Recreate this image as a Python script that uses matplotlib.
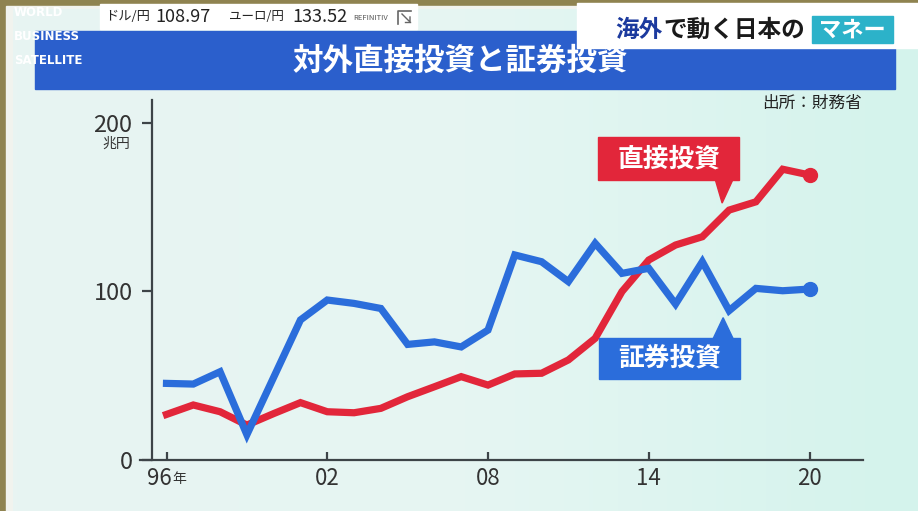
import numpy as np
import matplotlib.pyplot as plt
from matplotlib.patches import Rectangle, Polygon
from matplotlib.colors import LinearSegmentedColormap

plt.rcParams['font.family'] = ['Noto Sans CJK JP', 'DejaVu Sans']

# 対外直接投資・証券投資 (兆円), 1996-2020
years = np.arange(1996, 2021)
direct = [27, 32.6, 28.6, 20.7, 27.5, 34, 28.6, 28, 30.6, 37.5, 43.4, 49.4, 44.4,
          51, 51.4, 59.3, 72.1, 99.8, 118.5, 127.4, 132.3, 148.1, 153, 172.3, 168.9]
portfolio = [45.4, 45, 52.3, 15, 49, 83, 94.8, 92.8, 89.8, 68.5, 70, 67, 77,
             121.5, 117.5, 105.7, 128.4, 110.6, 113.6, 92.4, 117.5, 88.5, 101.7, 100.3, 101.3]
yticks = [0, 100, 200]
xticks = [1996, 2002, 2008, 2014, 2020]
xticklabels = ['96', '02', '08', '14', '20']

W, H = 918, 511
RED = '#e2263a'
BLUE = '#2b6ddb'
NAVY_BAR = '#2b5fcc'

fig = plt.figure(figsize=(W / 100, H / 100), dpi=100)
fig.patch.set_facecolor('#8f8350')

# background / decorations in pixel coords
bg = fig.add_axes([0, 0, 1, 1], zorder=-10)
bg.axis('off')
bg.add_patch(Rectangle((6, 6), W, H, color='#f1f3ee'))
cmap = LinearSegmentedColormap.from_list('panel', ['#e8f4f2', '#e6f6f3', '#d4f3ec'])
bg.imshow(np.linspace(0, 1, 256).reshape(1, -1), cmap=cmap, aspect='auto',
          extent=(13, W, H, 9), zorder=1)
bg.set_xlim(0, W)
bg.set_ylim(H, 0)

# title bar
bg.add_patch(Rectangle((35, 31), 860, 58, color=NAVY_BAR, zorder=2))
bg.text(460, 61, '対外直接投資と証券投資', color='white', fontsize=22, fontweight='bold',
        ha='center', va='center', zorder=3)

# logo text
for t, yy in zip(['WORLD', 'BUSINESS', 'SATELLITE'], [13, 36, 60]):
    bg.text(14, yy, t, color='white', fontsize=8.5, fontweight='bold',
            family='DejaVu Sans', ha='left', va='center', zorder=6)

# ticker box
bg.add_patch(Rectangle((100, 4), 317, 25, color='white', zorder=5))
bg.text(105, 17, 'ドル/円', fontsize=9.5, color='#222', ha='left', va='center', zorder=6)
bg.text(155, 17, '108.97', fontsize=13, color='#222', ha='left', va='center', zorder=6)
bg.text(229, 17, 'ユーロ/円', fontsize=9, color='#222', ha='left', va='center', zorder=6)
bg.text(292, 17, '133.52', fontsize=13, color='#222', ha='left', va='center', zorder=6)
bg.text(353, 18, 'REFINITIV', fontsize=5.5, color='#555', ha='left', va='center', zorder=6)
# small logo mark
bg.plot([398, 398, 411], [24, 11, 11], color='#666', lw=1.2, zorder=6)
bg.plot([402, 410, 410], [14, 22, 17], color='#666', lw=1.0, zorder=6)
bg.plot([410, 405], [22, 22], color='#666', lw=1.0, zorder=6)

# corner caption
bg.add_patch(Rectangle((577, 3), W - 577, 45, color='white', zorder=5))
bg.text(615, 30, '海外', fontsize=17, fontweight='bold', color='#1c3a9e',
        ha='left', va='center', zorder=6)
bg.text(663, 30, 'で動く日本の', fontsize=17, fontweight='bold', color='#1a1a1a',
        ha='left', va='center', zorder=6)
bg.add_patch(Rectangle((812, 16), 81, 27, color='#2cb2c9', zorder=6))
bg.text(852, 30, 'マネー', fontsize=16, fontweight='bold', color='white',
        ha='center', va='center', zorder=7)

# source and unit
bg.text(862, 103, '出所：財務省', fontsize=12, color='#222', ha='right', va='center')
bg.text(116, 144, '兆円', fontsize=10, color='#333', ha='center', va='center')

# chart axes
ax_l, ax_r, ax_b, ax_t = 140, 863, 460, 100
ax = fig.add_axes([ax_l / W, 1 - ax_b / H, (ax_r - ax_l) / W, (ax_b - ax_t) / H])
ax.patch.set_alpha(0)
ppy = (809.5 - 166.5) / 24      # px per year
ppv = (460 - 122.5) / 200       # px per 兆円
ax.set_xlim(1996 - (166.5 - ax_l) / ppy, 1996 + (ax_r - 166.5) / ppy)
ax.set_ylim(0, (ax_b - ax_t) / ppv)

for s in ['top', 'right']:
    ax.spines[s].set_visible(False)
ax.spines['left'].set_position(('data', 1996 - (166.5 - 152) / ppy))
for s in ['left', 'bottom']:
    ax.spines[s].set_color('#3d4448')
    ax.spines[s].set_linewidth(1.6)

ax.set_yticks(yticks)
ax.set_yticklabels([str(v) for v in yticks], fontsize=17, color='#333')
ax.tick_params(axis='y', direction='out', length=7, width=1.6, color='#3d4448', pad=7)
ax.set_xticks(xticks)
ax.set_xticklabels([''] + xticklabels[1:], fontsize=16, color='#333')
ax.tick_params(axis='x', direction='in', length=6, width=1.6, color='#3d4448', pad=5)
ax.annotate(xticklabels[0], (xticks[0], 0), xycoords=('data', 'axes fraction'),
            xytext=(3.8, -13), textcoords='offset points', fontsize=16, color='#333',
            ha='right', va='center', annotation_clip=False)
ax.annotate('年', (xticks[0], 0), xycoords=('data', 'axes fraction'),
            xytext=(4, -13.5), textcoords='offset points', fontsize=10, color='#333',
            ha='left', va='center', annotation_clip=False)

ax.plot(years, direct, color=RED, lw=5.2, solid_joinstyle='miter', zorder=3)
ax.plot(years[-1], direct[-1], 'o', color=RED, ms=10, zorder=3)
ax.plot(years, portfolio, color=BLUE, lw=5.2, solid_joinstyle='miter', zorder=4)
ax.plot(years[-1], portfolio[-1], 'o', color=BLUE, ms=10, zorder=4)


def callout(x, y, box, tri, text, color):
    # offsets in pixels (screen y downward) relative to the data point
    def d(dx, dy):
        return (x + dx / ppy, y - dy / ppv)
    l, t, r, b = box
    ax.add_patch(Polygon([d(l, t), d(r, t), d(r, b), d(l, b)], closed=True,
                         color=color, zorder=5, clip_on=False))
    ax.add_patch(Polygon([d(*p) for p in tri], closed=True, color=color,
                         zorder=5, clip_on=False))
    cx, cy = d((l + r) / 2, (t + b) / 2)
    ax.text(cx, cy, text, color='white', fontsize=18.5, fontweight='bold',
            ha='center', va='center', zorder=6)


i17 = list(years).index(2017)
callout(years[i17], direct[i17], (-131, -73, 10, -30),
        [(-14, -31), (4, -31), (-7, -7)], '直接投資', RED)
callout(years[i17], portfolio[i17], (-130, 27, 11, 68),
        [(-16, 28), (4, 28), (-6, 7)], '証券投資', BLUE)

fig.savefig('out.png', dpi=100, facecolor=fig.get_facecolor())
